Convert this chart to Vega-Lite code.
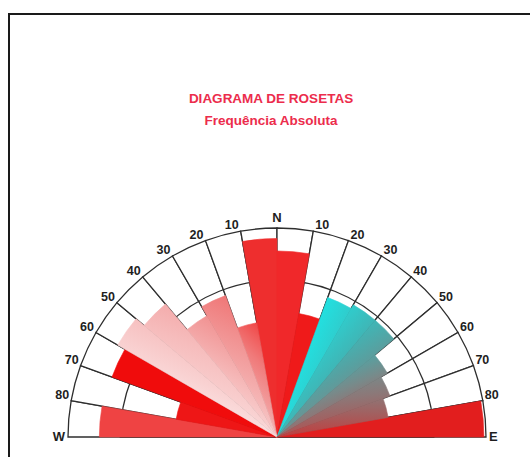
{
  "$schema": "https://vega.github.io/schema/vega-lite/v6.json",
  "width": 536,
  "height": 846,
  "autosize": "none",
  "padding": {"left": 9, "top": 14, "right": 0, "bottom": 0},
  "background": "white",
  "view": {"style": "cell", "stroke": "#1a1a1a", "strokeWidth": 2, "fill": "white"},
  "config": {"view": {"stroke": "#1a1a1a", "strokeWidth": 2}, "style": {"view": {"stroke": "#1a1a1a", "strokeWidth": 2}}},
  "title": {
    "text": "DIAGRAMA DE ROSETAS",
    "subtitle": "Frequência Absoluta",
    "font": "Liberation Sans",
    "subtitleFont": "Liberation Sans",
    "fontSize": 13.5,
    "subtitleFontSize": 13.5,
    "fontWeight": "bold",
    "subtitleFontWeight": "bold",
    "color": "#ec2c4c",
    "subtitleColor": "#ec2c4c",
    "subtitlePadding": 8,
    "anchor": "middle",
    "offset": -113,
    "dx": -6
  },
  "data": {"values": [
    {"setor": "W80-90", "a1": -90, "a2": -80, "f": 0.85},
    {"setor": "W70-80", "a1": -80, "a2": -70, "f": 0.49},
    {"setor": "W60-70", "a1": -70, "a2": -60, "f": 0.84},
    {"setor": "W50-60", "a1": -60, "a2": -50, "f": 0.88},
    {"setor": "W40-50", "a1": -50, "a2": -40, "f": 0.83},
    {"setor": "W30-40", "a1": -40, "a2": -30, "f": 0.67},
    {"setor": "W20-30", "a1": -30, "a2": -20, "f": 0.72},
    {"setor": "W10-20", "a1": -20, "a2": -10, "f": 0.555},
    {"setor": "W0-10", "a1": -10, "a2": 0, "f": 0.95},
    {"setor": "E0-10", "a1": 0, "a2": 10, "f": 0.89},
    {"setor": "E10-20", "a1": 10, "a2": 20, "f": 0.60},
    {"setor": "E20-30", "a1": 20, "a2": 30, "f": 0.71},
    {"setor": "E30-40", "a1": 30, "a2": 40, "f": 0.73},
    {"setor": "E40-50", "a1": 40, "a2": 50, "f": 0.73},
    {"setor": "E50-60", "a1": 50, "a2": 60, "f": 0.61},
    {"setor": "E60-70", "a1": 60, "a2": 70, "f": 0.575},
    {"setor": "E70-80", "a1": 70, "a2": 80, "f": 0.54},
    {"setor": "E80-90", "a1": 80, "a2": 90, "f": 0.99}
  ]},
  "layer": [
    {
      "mark": {"type": "arc", "fill": "white", "stroke": "#2e2e2e", "strokeWidth": 1.3},
      "encoding": {
        "theta": {"field": "a1", "type": "quantitative", "stack": null, "scale": {"domain": [-90, 90], "range": [-1.5707963, 1.5707963]}},
        "theta2": {"field": "a2"},
        "radius": {"datum": 1, "type": "quantitative", "scale": {"type": "linear", "domain": [0, 1], "range": [0, 209]}}
      }
    },
    {
      "data": {"values": [{"a1": -90, "a2": 90, "f": 0.75}]},
      "mark": {"type": "arc", "fill": "white", "fillOpacity": 0, "stroke": "#2e2e2e", "strokeWidth": 1.3},
      "encoding": {
        "theta": {"field": "a1", "type": "quantitative", "stack": null},
        "theta2": {"field": "a2"},
        "radius": {"field": "f", "type": "quantitative"}
      }
    },
    {
      "transform": [{"filter": {"field": "setor", "oneOf": ["W80-90", "W70-80", "W60-70", "W0-10", "E0-10", "E10-20", "E80-90"]}}],
      "mark": {"type": "arc", "strokeWidth": 0.6},
      "encoding": {
        "theta": {"field": "a1", "type": "quantitative", "stack": null},
        "theta2": {"field": "a2"},
        "radius": {"field": "f", "type": "quantitative"},
        "fill": {"field": "setor", "type": "nominal", "legend": null, "scale": {"domain": ["W80-90", "W70-80", "W60-70", "W0-10", "E0-10", "E10-20", "E80-90"], "range": ["#ef4343", "#ee1616", "#f00c0c", "#ee2e2e", "#f0282a", "#ef1a1a", "#e21e1e"]}},
        "stroke": {"field": "setor", "type": "nominal", "legend": null, "scale": {"domain": ["W80-90", "W70-80", "W60-70", "W0-10", "E0-10", "E10-20", "E80-90"], "range": ["#ef4343", "#ee1616", "#f00c0c", "#ee2e2e", "#f0282a", "#ef1a1a", "#e21e1e"]}}
      }
    },
    {
      "transform": [{"filter": {"field": "setor", "equal": "W10-20"}}],
      "mark": {"type": "arc", "strokeWidth": 0.6,
        "fill": {"gradient": "linear", "x1": 0.8496, "y1": 1.4644, "x2": 1.2793, "y2": 0.1375, "stops": [{"offset": 0, "color": "#fce6e6"}, {"offset": 0.12, "color": "#f9d2d2"}, {"offset": 0.28, "color": "#f6bcbc"}, {"offset": 0.42, "color": "#f3a6a6"}, {"offset": 0.55, "color": "#f19292"}, {"offset": 0.7, "color": "#f07a7a"}, {"offset": 0.8, "color": "#f06464"}, {"offset": 0.92, "color": "#f04646"}, {"offset": 1, "color": "#ef3a3a"}]},
        "stroke": {"gradient": "linear", "x1": 0.8496, "y1": 1.4644, "x2": 1.2793, "y2": 0.1375, "stops": [{"offset": 0, "color": "#fce6e6"}, {"offset": 0.12, "color": "#f9d2d2"}, {"offset": 0.28, "color": "#f6bcbc"}, {"offset": 0.42, "color": "#f3a6a6"}, {"offset": 0.55, "color": "#f19292"}, {"offset": 0.7, "color": "#f07a7a"}, {"offset": 0.8, "color": "#f06464"}, {"offset": 0.92, "color": "#f04646"}, {"offset": 1, "color": "#ef3a3a"}]}},
      "encoding": {"theta": {"field": "a1", "type": "quantitative", "stack": null}, "theta2": {"field": "a2"}, "radius": {"field": "f", "type": "quantitative"}}
    },
    {
      "transform": [{"filter": {"field": "setor", "equal": "W20-30"}}],
      "mark": {"type": "arc", "strokeWidth": 0.6,
        "fill": {"gradient": "linear", "x1": 0.9241, "y1": 1.2983, "x2": 1.3038, "y2": -0.1932, "stops": [{"offset": 0, "color": "#fce6e6"}, {"offset": 0.12, "color": "#f9d2d2"}, {"offset": 0.28, "color": "#f6bcbc"}, {"offset": 0.42, "color": "#f3a6a6"}, {"offset": 0.55, "color": "#f19292"}, {"offset": 0.7, "color": "#f07a7a"}, {"offset": 0.8, "color": "#f06464"}, {"offset": 0.92, "color": "#f04646"}, {"offset": 1, "color": "#ef3a3a"}]},
        "stroke": {"gradient": "linear", "x1": 0.9241, "y1": 1.2983, "x2": 1.3038, "y2": -0.1932, "stops": [{"offset": 0, "color": "#fce6e6"}, {"offset": 0.12, "color": "#f9d2d2"}, {"offset": 0.28, "color": "#f6bcbc"}, {"offset": 0.42, "color": "#f3a6a6"}, {"offset": 0.55, "color": "#f19292"}, {"offset": 0.7, "color": "#f07a7a"}, {"offset": 0.8, "color": "#f06464"}, {"offset": 0.92, "color": "#f04646"}, {"offset": 1, "color": "#ef3a3a"}]}},
      "encoding": {"theta": {"field": "a1", "type": "quantitative", "stack": null}, "theta2": {"field": "a2"}, "radius": {"field": "f", "type": "quantitative"}}
    },
    {
      "transform": [{"filter": {"field": "setor", "equal": "W30-40"}}],
      "mark": {"type": "arc", "strokeWidth": 0.6,
        "fill": {"gradient": "linear", "x1": 0.9333, "y1": 1.1631, "x2": 1.4888, "y2": -0.1962, "stops": [{"offset": 0, "color": "#fce6e6"}, {"offset": 0.12, "color": "#f9d2d2"}, {"offset": 0.28, "color": "#f6bcbc"}, {"offset": 0.42, "color": "#f3a6a6"}, {"offset": 0.55, "color": "#f19292"}, {"offset": 0.7, "color": "#f07a7a"}, {"offset": 0.8, "color": "#f06464"}, {"offset": 0.92, "color": "#f04646"}, {"offset": 1, "color": "#ef3a3a"}]},
        "stroke": {"gradient": "linear", "x1": 0.9333, "y1": 1.1631, "x2": 1.4888, "y2": -0.1962, "stops": [{"offset": 0, "color": "#fce6e6"}, {"offset": 0.12, "color": "#f9d2d2"}, {"offset": 0.28, "color": "#f6bcbc"}, {"offset": 0.42, "color": "#f3a6a6"}, {"offset": 0.55, "color": "#f19292"}, {"offset": 0.7, "color": "#f07a7a"}, {"offset": 0.8, "color": "#f06464"}, {"offset": 0.92, "color": "#f04646"}, {"offset": 1, "color": "#ef3a3a"}]}},
      "encoding": {"theta": {"field": "a1", "type": "quantitative", "stack": null}, "theta2": {"field": "a2"}, "radius": {"field": "f", "type": "quantitative"}}
    },
    {
      "transform": [{"filter": {"field": "setor", "equal": "W40-50"}}],
      "mark": {"type": "arc", "strokeWidth": 0.6,
        "fill": {"gradient": "linear", "x1": 0.9392, "y1": 1.1553, "x2": 1.699, "y2": -0.7861, "stops": [{"offset": 0, "color": "#fce6e6"}, {"offset": 0.12, "color": "#f9d2d2"}, {"offset": 0.28, "color": "#f6bcbc"}, {"offset": 0.42, "color": "#f3a6a6"}, {"offset": 0.55, "color": "#f19292"}, {"offset": 0.7, "color": "#f07a7a"}, {"offset": 0.8, "color": "#f06464"}, {"offset": 0.92, "color": "#f04646"}, {"offset": 1, "color": "#ef3a3a"}]},
        "stroke": {"gradient": "linear", "x1": 0.9392, "y1": 1.1553, "x2": 1.699, "y2": -0.7861, "stops": [{"offset": 0, "color": "#fce6e6"}, {"offset": 0.12, "color": "#f9d2d2"}, {"offset": 0.28, "color": "#f6bcbc"}, {"offset": 0.42, "color": "#f3a6a6"}, {"offset": 0.55, "color": "#f19292"}, {"offset": 0.7, "color": "#f07a7a"}, {"offset": 0.8, "color": "#f06464"}, {"offset": 0.92, "color": "#f04646"}, {"offset": 1, "color": "#ef3a3a"}]}},
      "encoding": {"theta": {"field": "a1", "type": "quantitative", "stack": null}, "theta2": {"field": "a2"}, "radius": {"field": "f", "type": "quantitative"}}
    },
    {
      "transform": [{"filter": {"field": "setor", "equal": "W50-60"}}],
      "mark": {"type": "arc", "strokeWidth": 0.6,
        "fill": {"gradient": "linear", "x1": 0.9494, "y1": 1.0816, "x2": 1.961, "y2": -0.5506, "stops": [{"offset": 0, "color": "#fce6e6"}, {"offset": 0.12, "color": "#f9d2d2"}, {"offset": 0.28, "color": "#f6bcbc"}, {"offset": 0.42, "color": "#f3a6a6"}, {"offset": 0.55, "color": "#f19292"}, {"offset": 0.7, "color": "#f07a7a"}, {"offset": 0.8, "color": "#f06464"}, {"offset": 0.92, "color": "#f04646"}, {"offset": 1, "color": "#ef3a3a"}]},
        "stroke": {"gradient": "linear", "x1": 0.9494, "y1": 1.0816, "x2": 1.961, "y2": -0.5506, "stops": [{"offset": 0, "color": "#fce6e6"}, {"offset": 0.12, "color": "#f9d2d2"}, {"offset": 0.28, "color": "#f6bcbc"}, {"offset": 0.42, "color": "#f3a6a6"}, {"offset": 0.55, "color": "#f19292"}, {"offset": 0.7, "color": "#f07a7a"}, {"offset": 0.8, "color": "#f06464"}, {"offset": 0.92, "color": "#f04646"}, {"offset": 1, "color": "#ef3a3a"}]}},
      "encoding": {"theta": {"field": "a1", "type": "quantitative", "stack": null}, "theta2": {"field": "a2"}, "radius": {"field": "f", "type": "quantitative"}}
    },
    {
      "transform": [{"filter": {"field": "setor", "equal": "E20-30"}}],
      "mark": {"type": "arc", "strokeWidth": 0.6,
        "fill": {"gradient": "linear", "x1": -0.0763, "y1": 0.9381, "x2": 1.4505, "y2": 2.1757, "stops": [{"offset": 0, "color": "#22e0e0"}, {"offset": 0.15, "color": "#30cccc"}, {"offset": 0.3, "color": "#3fb6b6"}, {"offset": 0.45, "color": "#58a0a0"}, {"offset": 0.6, "color": "#788a8a"}, {"offset": 0.7, "color": "#8c7878"}, {"offset": 0.8, "color": "#a26060"}, {"offset": 0.9, "color": "#bc4444"}, {"offset": 1, "color": "#d42c2c"}]},
        "stroke": {"gradient": "linear", "x1": -0.0763, "y1": 0.9381, "x2": 1.4505, "y2": 2.1757, "stops": [{"offset": 0, "color": "#22e0e0"}, {"offset": 0.15, "color": "#30cccc"}, {"offset": 0.3, "color": "#3fb6b6"}, {"offset": 0.45, "color": "#58a0a0"}, {"offset": 0.6, "color": "#788a8a"}, {"offset": 0.7, "color": "#8c7878"}, {"offset": 0.8, "color": "#a26060"}, {"offset": 0.9, "color": "#bc4444"}, {"offset": 1, "color": "#d42c2c"}]}},
      "encoding": {"theta": {"field": "a1", "type": "quantitative", "stack": null}, "theta2": {"field": "a2"}, "radius": {"field": "f", "type": "quantitative"}}
    },
    {
      "transform": [{"filter": {"field": "setor", "equal": "E30-40"}}],
      "mark": {"type": "arc", "strokeWidth": 0.6,
        "fill": {"gradient": "linear", "x1": -0.3096, "y1": 0.65, "x2": 0.7224, "y2": 1.8167, "stops": [{"offset": 0, "color": "#22e0e0"}, {"offset": 0.15, "color": "#30cccc"}, {"offset": 0.3, "color": "#3fb6b6"}, {"offset": 0.45, "color": "#58a0a0"}, {"offset": 0.6, "color": "#788a8a"}, {"offset": 0.7, "color": "#8c7878"}, {"offset": 0.8, "color": "#a26060"}, {"offset": 0.9, "color": "#bc4444"}, {"offset": 1, "color": "#d42c2c"}]},
        "stroke": {"gradient": "linear", "x1": -0.3096, "y1": 0.65, "x2": 0.7224, "y2": 1.8167, "stops": [{"offset": 0, "color": "#22e0e0"}, {"offset": 0.15, "color": "#30cccc"}, {"offset": 0.3, "color": "#3fb6b6"}, {"offset": 0.45, "color": "#58a0a0"}, {"offset": 0.6, "color": "#788a8a"}, {"offset": 0.7, "color": "#8c7878"}, {"offset": 0.8, "color": "#a26060"}, {"offset": 0.9, "color": "#bc4444"}, {"offset": 1, "color": "#d42c2c"}]}},
      "encoding": {"theta": {"field": "a1", "type": "quantitative", "stack": null}, "theta2": {"field": "a2"}, "radius": {"field": "f", "type": "quantitative"}}
    },
    {
      "transform": [{"filter": {"field": "setor", "equal": "E40-50"}}],
      "mark": {"type": "arc", "strokeWidth": 0.6,
        "fill": {"gradient": "linear", "x1": -0.4507, "y1": 0.3181, "x2": 0.3688, "y2": 1.558, "stops": [{"offset": 0, "color": "#22e0e0"}, {"offset": 0.15, "color": "#30cccc"}, {"offset": 0.3, "color": "#3fb6b6"}, {"offset": 0.45, "color": "#58a0a0"}, {"offset": 0.6, "color": "#788a8a"}, {"offset": 0.7, "color": "#8c7878"}, {"offset": 0.8, "color": "#a26060"}, {"offset": 0.9, "color": "#bc4444"}, {"offset": 1, "color": "#d42c2c"}]},
        "stroke": {"gradient": "linear", "x1": -0.4507, "y1": 0.3181, "x2": 0.3688, "y2": 1.558, "stops": [{"offset": 0, "color": "#22e0e0"}, {"offset": 0.15, "color": "#30cccc"}, {"offset": 0.3, "color": "#3fb6b6"}, {"offset": 0.45, "color": "#58a0a0"}, {"offset": 0.6, "color": "#788a8a"}, {"offset": 0.7, "color": "#8c7878"}, {"offset": 0.8, "color": "#a26060"}, {"offset": 0.9, "color": "#bc4444"}, {"offset": 1, "color": "#d42c2c"}]}},
      "encoding": {"theta": {"field": "a1", "type": "quantitative", "stack": null}, "theta2": {"field": "a2"}, "radius": {"field": "f", "type": "quantitative"}}
    },
    {
      "transform": [{"filter": {"field": "setor", "equal": "E50-60"}}],
      "mark": {"type": "arc", "strokeWidth": 0.6,
        "fill": {"gradient": "linear", "x1": -0.5384, "y1": 0.0363, "x2": 0.1795, "y2": 1.3213, "stops": [{"offset": 0, "color": "#22e0e0"}, {"offset": 0.15, "color": "#30cccc"}, {"offset": 0.3, "color": "#3fb6b6"}, {"offset": 0.45, "color": "#58a0a0"}, {"offset": 0.6, "color": "#788a8a"}, {"offset": 0.7, "color": "#8c7878"}, {"offset": 0.8, "color": "#a26060"}, {"offset": 0.9, "color": "#bc4444"}, {"offset": 1, "color": "#d42c2c"}]},
        "stroke": {"gradient": "linear", "x1": -0.5384, "y1": 0.0363, "x2": 0.1795, "y2": 1.3213, "stops": [{"offset": 0, "color": "#22e0e0"}, {"offset": 0.15, "color": "#30cccc"}, {"offset": 0.3, "color": "#3fb6b6"}, {"offset": 0.45, "color": "#58a0a0"}, {"offset": 0.6, "color": "#788a8a"}, {"offset": 0.7, "color": "#8c7878"}, {"offset": 0.8, "color": "#a26060"}, {"offset": 0.9, "color": "#bc4444"}, {"offset": 1, "color": "#d42c2c"}]}},
      "encoding": {"theta": {"field": "a1", "type": "quantitative", "stack": null}, "theta2": {"field": "a2"}, "radius": {"field": "f", "type": "quantitative"}}
    },
    {
      "transform": [{"filter": {"field": "setor", "equal": "E60-70"}}],
      "mark": {"type": "arc", "strokeWidth": 0.6,
        "fill": {"gradient": "linear", "x1": -0.6662, "y1": -1.6858, "x2": 0.1176, "y2": 1.474, "stops": [{"offset": 0, "color": "#22e0e0"}, {"offset": 0.15, "color": "#30cccc"}, {"offset": 0.3, "color": "#3fb6b6"}, {"offset": 0.45, "color": "#58a0a0"}, {"offset": 0.6, "color": "#788a8a"}, {"offset": 0.7, "color": "#8c7878"}, {"offset": 0.8, "color": "#a26060"}, {"offset": 0.9, "color": "#bc4444"}, {"offset": 1, "color": "#d42c2c"}]},
        "stroke": {"gradient": "linear", "x1": -0.6662, "y1": -1.6858, "x2": 0.1176, "y2": 1.474, "stops": [{"offset": 0, "color": "#22e0e0"}, {"offset": 0.15, "color": "#30cccc"}, {"offset": 0.3, "color": "#3fb6b6"}, {"offset": 0.45, "color": "#58a0a0"}, {"offset": 0.6, "color": "#788a8a"}, {"offset": 0.7, "color": "#8c7878"}, {"offset": 0.8, "color": "#a26060"}, {"offset": 0.9, "color": "#bc4444"}, {"offset": 1, "color": "#d42c2c"}]}},
      "encoding": {"theta": {"field": "a1", "type": "quantitative", "stack": null}, "theta2": {"field": "a2"}, "radius": {"field": "f", "type": "quantitative"}}
    },
    {
      "transform": [{"filter": {"field": "setor", "equal": "E70-80"}}],
      "mark": {"type": "arc", "strokeWidth": 0.6,
        "fill": {"gradient": "linear", "x1": -0.0668, "y1": -3.5341, "x2": 0.0058, "y2": 1.3943, "stops": [{"offset": 0, "color": "#22e0e0"}, {"offset": 0.15, "color": "#30cccc"}, {"offset": 0.3, "color": "#3fb6b6"}, {"offset": 0.45, "color": "#58a0a0"}, {"offset": 0.6, "color": "#788a8a"}, {"offset": 0.7, "color": "#8c7878"}, {"offset": 0.8, "color": "#a26060"}, {"offset": 0.9, "color": "#bc4444"}, {"offset": 1, "color": "#d42c2c"}]},
        "stroke": {"gradient": "linear", "x1": -0.0668, "y1": -3.5341, "x2": 0.0058, "y2": 1.3943, "stops": [{"offset": 0, "color": "#22e0e0"}, {"offset": 0.15, "color": "#30cccc"}, {"offset": 0.3, "color": "#3fb6b6"}, {"offset": 0.45, "color": "#58a0a0"}, {"offset": 0.6, "color": "#788a8a"}, {"offset": 0.7, "color": "#8c7878"}, {"offset": 0.8, "color": "#a26060"}, {"offset": 0.9, "color": "#bc4444"}, {"offset": 1, "color": "#d42c2c"}]}},
      "encoding": {"theta": {"field": "a1", "type": "quantitative", "stack": null}, "theta2": {"field": "a2"}, "radius": {"field": "f", "type": "quantitative"}}
    },
    {
      "data": {"values": [
        {"a": -80, "t": "80"}, {"a": -70, "t": "70"}, {"a": -60, "t": "60"}, {"a": -50, "t": "50"},
        {"a": -40, "t": "40"}, {"a": -30, "t": "30"}, {"a": -20, "t": "20"}, {"a": -10, "t": "10"}
      ]},
      "mark": {"type": "text", "align": "right", "baseline": "bottom", "dx": -2, "dy": 1, "font": "Liberation Sans", "fontSize": 12.5, "fontWeight": "bold", "fill": "#1e1e1e"},
      "encoding": {
        "theta": {"field": "a", "type": "quantitative", "stack": null},
        "radius": {"datum": 1, "type": "quantitative"},
        "text": {"field": "t", "type": "nominal"}
      }
    },
    {
      "data": {"values": [
        {"a": 10, "t": "10"}, {"a": 20, "t": "20"}, {"a": 30, "t": "30"}, {"a": 40, "t": "40"},
        {"a": 50, "t": "50"}, {"a": 60, "t": "60"}, {"a": 70, "t": "70"}, {"a": 80, "t": "80"}
      ]},
      "mark": {"type": "text", "align": "left", "baseline": "bottom", "dx": 2, "dy": 1, "font": "Liberation Sans", "fontSize": 12.5, "fontWeight": "bold", "fill": "#1e1e1e"},
      "encoding": {
        "theta": {"field": "a", "type": "quantitative", "stack": null},
        "radius": {"datum": 1, "type": "quantitative"},
        "text": {"field": "t", "type": "nominal"}
      }
    },
    {
      "data": {"values": [{"a": 0, "t": "N"}]},
      "mark": {"type": "text", "align": "center", "baseline": "bottom", "dy": -3, "font": "Liberation Sans", "fontSize": 13, "fontWeight": "bold", "fill": "#1e1e1e"},
      "encoding": {
        "theta": {"field": "a", "type": "quantitative", "stack": null},
        "radius": {"datum": 1, "type": "quantitative"},
        "text": {"field": "t", "type": "nominal"}
      }
    },
    {
      "data": {"values": [{"a": -90, "t": "W"}]},
      "mark": {"type": "text", "align": "right", "baseline": "middle", "dx": -3, "dy": 0, "font": "Liberation Sans", "fontSize": 13, "fontWeight": "bold", "fill": "#1e1e1e"},
      "encoding": {
        "theta": {"field": "a", "type": "quantitative", "stack": null},
        "radius": {"datum": 1, "type": "quantitative"},
        "text": {"field": "t", "type": "nominal"}
      }
    },
    {
      "data": {"values": [{"a": 90, "t": "E"}]},
      "mark": {"type": "text", "align": "left", "baseline": "middle", "dx": 3, "dy": 0, "font": "Liberation Sans", "fontSize": 13, "fontWeight": "bold", "fill": "#1e1e1e"},
      "encoding": {
        "theta": {"field": "a", "type": "quantitative", "stack": null},
        "radius": {"datum": 1, "type": "quantitative"},
        "text": {"field": "t", "type": "nominal"}
      }
    }
  ]
}
